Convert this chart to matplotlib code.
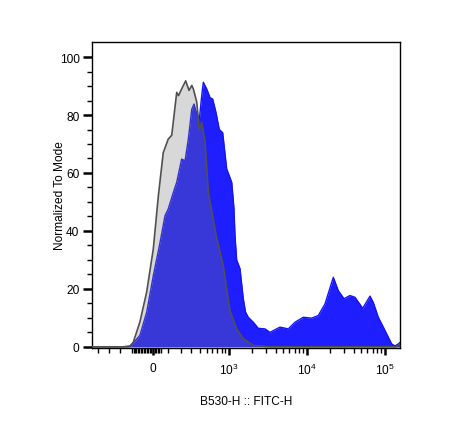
import matplotlib
matplotlib.use("Agg")
import matplotlib.pyplot as plt
from matplotlib.ticker import FixedLocator, NullFormatter, FixedFormatter

plt.rcParams['font.family'] = ['Liberation Sans', 'DejaVu Sans']
plt.rcParams['mathtext.fontset'] = 'custom'
plt.rcParams['mathtext.rm'] = 'Liberation Sans'
plt.rcParams['mathtext.it'] = 'Liberation Sans'

# Control (grey) histogram: FITC-H value vs % of mode
grey_x = [-632, -250, -216, -157, -132, -85, -40, 2, 34, 66, 100, 125, 163, 178, 204, 241, 274,
          303, 321, 361, 395, 427, 476, 529, 687, 842, 1030, 1260, 1535, 2066, 3384,
          20000, 100000, 140000, 149300, 157000]
grey_y = [0, 0, 0, 0.3, 1.6, 8.6, 19, 33.8, 52, 67, 71.7, 73, 87.8, 86.7, 89, 91.8, 88.5,
          90.2, 89, 84.5, 75, 77.5, 71, 53.3, 37.5, 28, 12.5, 6.2, 2.8, 0.5, 0,
          0, 0, 0, 0.5, 1]

# Stained (blue) histogram
blue_x = [-632, -250, -157, -85, -40, 2, 45, 78, 100, 137, 163, 204, 235, 267, 303, 329, 361,
          395, 427, 450, 502, 559, 607, 672, 745, 826, 933, 1086, 1160, 1198, 1260, 1391,
          1535, 1640, 1780, 2066, 2395, 2920, 3384, 4549, 5814, 7091, 9060, 11600, 14090,
          17180, 21950, 25420, 30090, 35910, 41640, 52250, 64790, 71450, 82770, 96000,
          122800, 135400, 149300, 157000]
blue_y = [0, 0, 0, 4, 12, 24.6, 36, 45.3, 47.6, 53.3, 56.8, 64.8, 64.2, 71.7, 82, 83.8, 80.3,
          78.6, 86.7, 91.3, 89, 86, 85.5, 80.9, 75, 73.9, 61.4, 56.8, 48, 38.4, 30, 27,
          16.6, 12, 10.2, 8.5, 6.4, 6.2, 5, 6.8, 6.2, 8.5, 10.2, 9.9, 10.8,
          14.8, 24, 19.4, 16.6, 17.7, 17.1, 13.3, 17.5, 15.3, 10.2, 6.8,
          1, 0.3, 1, 1.5]

x_major = [0, 1000, 10000, 100000]
x_major_labels = ['0', r'$10^3$', r'$10^4$', r'$10^5$']
y_major = [0, 20, 40, 60, 80, 100]

fig = plt.figure(figsize=(4.66, 4.27), dpi=100)
ax = fig.add_axes([92/466, 1-349/427, (400-92)/466, (349-43)/427])

ax.set_xscale('asinh', linear_width=215)

ax.fill_between(blue_x, blue_y, 0, color='#1e1eff', lw=0, zorder=1)
ax.plot(blue_x, blue_y, color='#1414f5', lw=1.0, zorder=2)
ax.fill_between(grey_x, grey_y, 0, color=(122/255, 122/255, 122/255), alpha=0.29, lw=0, zorder=3)
ax.plot(grey_x, grey_y, color='#505050', lw=1.2, zorder=4)

ax.set_xlim(-632, 157000)
ax.set_ylim(-0.4, 105.2)

# x ticks
minor_x = [-520, -370, -245] + list(range(-140, 60, 10)) + \
          [100 * k for k in range(1, 10)] + [1000 * k for k in range(2, 10)] + \
          [10000 * k for k in range(2, 10)]
ax.xaxis.set_major_locator(FixedLocator(x_major))
ax.xaxis.set_major_formatter(FixedFormatter(x_major_labels))
ax.xaxis.set_minor_locator(FixedLocator(minor_x))
ax.xaxis.set_minor_formatter(NullFormatter())

ax.set_yticks(y_major)
ax.set_yticks(list(range(5, 105, 5)), minor=True)
ax.yaxis.set_minor_formatter(NullFormatter())

ax.tick_params(axis='both', which='major', direction='out', length=6.5, width=1.8,
               labelsize=8.6, colors='black', pad=2.5)
ax.tick_params(axis='both', which='minor', direction='out', length=3.5, width=1.0)
ax.tick_params(axis='x', which='major', length=5, pad=5)

for s in ax.spines.values():
    s.set_linewidth(1.0)
    s.set_color('black')

ax.set_xlabel('B530-H :: FITC-H', fontsize=8.6)
ax.set_ylabel('Normalized To Mode', fontsize=8.6)
ax.yaxis.set_label_coords(-0.084, 0.5)
ax.xaxis.set_label_coords(0.5, -0.155)

fig.savefig('out.png', dpi=100)
